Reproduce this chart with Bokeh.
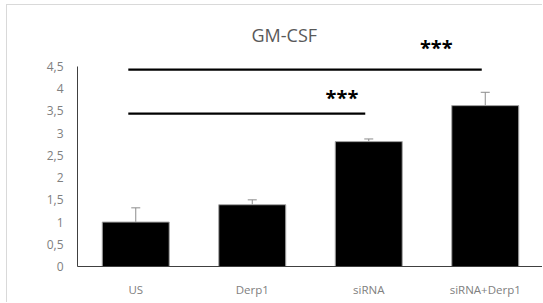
import math
from bokeh.plotting import figure
from bokeh.models import Range1d, FixedTicker, Label, Whisker, ColumnDataSource, TeeHead
from bokeh.core.properties import value
from bokeh.embed import file_html
from bokeh.resources import INLINE

# ---- data ----
categories = ["US", "Derp1", "siRNA", "siRNA+Derp1"]
means = [1.0, 1.39, 2.81, 3.62]
errors = [0.32, 0.11, 0.06, 0.30]
y_ticks = [0, 0.5, 1, 1.5, 2, 2.5, 3, 3.5, 4, 4.5]
y_tick_labels = ["0", "0,5", "1", "1,5", "2", "2,5", "3", "3,5", "4", "4,5"]
comp_from = ["US", "US"]
comp_to = ["siRNA", "siRNA+Derp1"]
comp_level = [3.44, 4.43]
comp_label = ["***", "***"]
title_text = "GM-CSF"
y_label_text = "GM-CSF / PPIA"

# ---- layout / style ----
FONT = "Open Sans"
y_top = 5.873
x_pos = [i + 0.5 for i in range(len(categories))]

p = figure(width=536, height=298, output_backend="svg", toolbar_location=None,
           x_range=Range1d(0, len(categories)), y_range=Range1d(0, y_top),
           min_border_left=70, min_border_right=0, min_border_top=0,
           min_border_bottom=37, background_fill_color="white",
           border_fill_color="white")
p.styles = {"margin-left": "6px", "margin-top": "4px",
            "border-left": "1px solid #d9d9d9", "border-top": "1px solid #d9d9d9"}
p.outline_line_color = None
p.xgrid.visible = False
p.ygrid.visible = False

src = ColumnDataSource(dict(x=x_pos, top=means,
                            upper=[m + e for m, e in zip(means, errors)]))
p.vbar(x="x", top="top", bottom=0, width=0.575, source=src,
       fill_color="black", line_color="#a6a6a6", line_width=1)

w = Whisker(base="x", lower="top", upper="upper", source=src,
            line_color="#8c8c8c", line_width=1,
            upper_head=TeeHead(size=9, line_color="#8c8c8c", line_width=1),
            lower_head=None)
p.add_layout(w)

# significance lines and stars
start_off = -0.064
end_off = -0.03
star_off = [-0.23, -0.42]
star_rise = [0.36, 0.50]
for i in range(len(comp_from)):
    xs = categories.index(comp_from[i]) + 0.5 + start_off
    xe = categories.index(comp_to[i]) + 0.5 + end_off
    p.line([xs, xe], [comp_level[i], comp_level[i]], line_color="black",
           line_width=2.2)
    p.text(x=[categories.index(comp_to[i]) + 0.5 + star_off[i]],
           y=[comp_level[i] + star_rise[i]], text=[comp_label[i]],
           text_font=value(FONT), text_font_style="bold",
           text_font_size="20px", text_align="center",
           text_baseline="middle", text_color="black")

# title
p.add_layout(Label(x=1.775, y=5.22, text=title_text, text_font=FONT,
                   text_font_size="18px", text_color="#595959",
                   text_align="center", text_baseline="middle"))
# y label
p.add_layout(Label(x=-0.405, y=2.25, text=y_label_text, text_font=FONT,
                   text_font_style="bold", text_font_size="13.5px",
                   text_color="black", angle=math.pi / 2,
                   text_align="center", text_baseline="middle"))

# axes
p.yaxis.bounds = (0, 4.5)
p.yaxis.ticker = FixedTicker(ticks=y_ticks)
p.yaxis.major_label_overrides = {t: l for t, l in zip(y_ticks, y_tick_labels)}
p.xaxis.ticker = FixedTicker(ticks=x_pos)
p.xaxis.major_label_overrides = {x: c for x, c in zip(x_pos, categories)}
for ax in (p.xaxis[0], p.yaxis[0]):
    ax.axis_line_color = "#404040"
    ax.axis_line_width = 1
    ax.major_tick_line_color = None
    ax.minor_tick_line_color = None
    ax.major_tick_out = 0
    ax.major_tick_in = 0
    ax.major_label_text_font = FONT
    ax.major_label_text_color = "#808080"
    ax.major_label_text_font_size = "12px"
p.yaxis.major_label_standoff = 14
p.xaxis.major_label_standoff = 15
p.xaxis.major_label_text_font_size = "11.5px"

open("out.html", "w").write(file_html(p, INLINE))
